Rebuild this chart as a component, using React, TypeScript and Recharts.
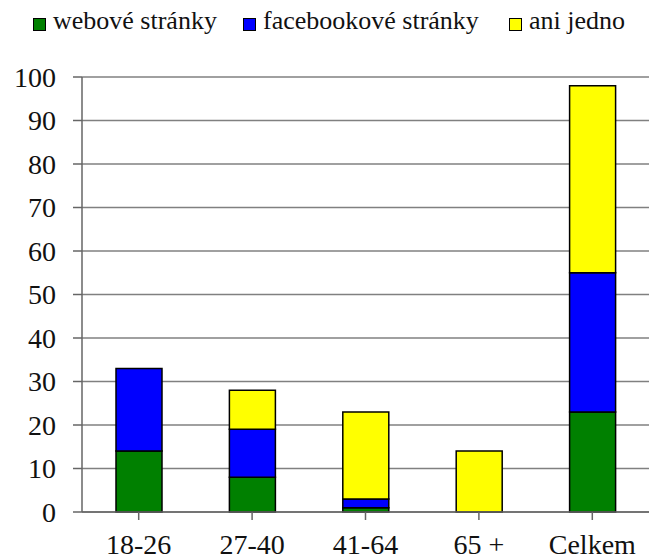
import React from "react";
import { Bar, BarChart, CartesianGrid, XAxis, YAxis } from "recharts";

const categories = ["18-26", "27-40", "41-64", "65 +", "Celkem"];
const webove = [14, 8, 1, 0, 23];
const facebookove = [19, 11, 2, 0, 32];
const aniJedno = [0, 9, 20, 14, 43];
const yTicks = [0, 10, 20, 30, 40, 50, 60, 70, 80, 90, 100];

const series = [
  { key: "webove", name: "webové stránky", color: "#008000" },
  { key: "facebook", name: "facebookové stránky", color: "#0000ff" },
  { key: "ani", name: "ani jedno", color: "#ffff00" },
];

const data = categories.map((name, i) => ({
  name,
  webove: webove[i],
  facebook: facebookove[i],
  ani: aniJedno[i],
}));

const legendPos = [
  { box: 33, text: 53 },
  { box: 243, text: 263 },
  { box: 509, text: 529 },
];

// force the serif face everywhere, including the svg tick text
const css = `
.chart-box, .chart-box div, .chart-box text, .chart-box tspan, .chart-box .recharts-text {
  font-family: "Liberation Serif" !important;
}
`;

export default function App() {
  return (
    <div className="chart-box" style={{ position: "absolute", left: 0, top: 0, width: 649, height: 560, background: "#fff" }}>
      <style>{css}</style>
      {series.map((s, i) => (
        <React.Fragment key={s.key}>
          <div
            style={{
              position: "absolute",
              left: legendPos[i].box,
              top: 18,
              width: 11,
              height: 11,
              background: s.color,
              border: "1.5px solid #000",
            }}
          />
          <div
            style={{
              position: "absolute",
              left: legendPos[i].text,
              top: 6,
              fontSize: 26,
              lineHeight: "30px",
              color: "#111",
              whiteSpace: "nowrap",
            }}
          >
            {s.name}
          </div>
        </React.Fragment>
      ))}
      <BarChart
        width={649}
        height={560}
        data={data}
        margin={{ top: 77, right: 0, left: 0, bottom: 0 }}
        barSize={46}
      >
        <CartesianGrid vertical={false} stroke="#808080" strokeWidth={1.5} />
        <XAxis
          dataKey="name"
          height={48}
          axisLine={{ stroke: "#666", strokeWidth: 1.5 }}
          tickLine={{ stroke: "#666", strokeWidth: 1.5 }}
          tickSize={8}
          tickMargin={14}
          interval={0}
          tick={{ fill: "#111", fontSize: 28 }}
        />
        <YAxis
          width={82}
          domain={[0, 100]}
          ticks={yTicks}
          interval={0}
          axisLine={{ stroke: "#666", strokeWidth: 1.5 }}
          tickLine={{ stroke: "#666", strokeWidth: 1.5 }}
          tickSize={9}
          tickMargin={17}
          tick={{ fill: "#111", fontSize: 28 }}
        />
        {series.map((s) => (
          <Bar
            key={s.key}
            dataKey={s.key}
            name={s.name}
            stackId="a"
            fill={s.color}
            stroke="#000"
            strokeWidth={1.5}
            isAnimationActive={false}
          />
        ))}
      </BarChart>
    </div>
  );
}
